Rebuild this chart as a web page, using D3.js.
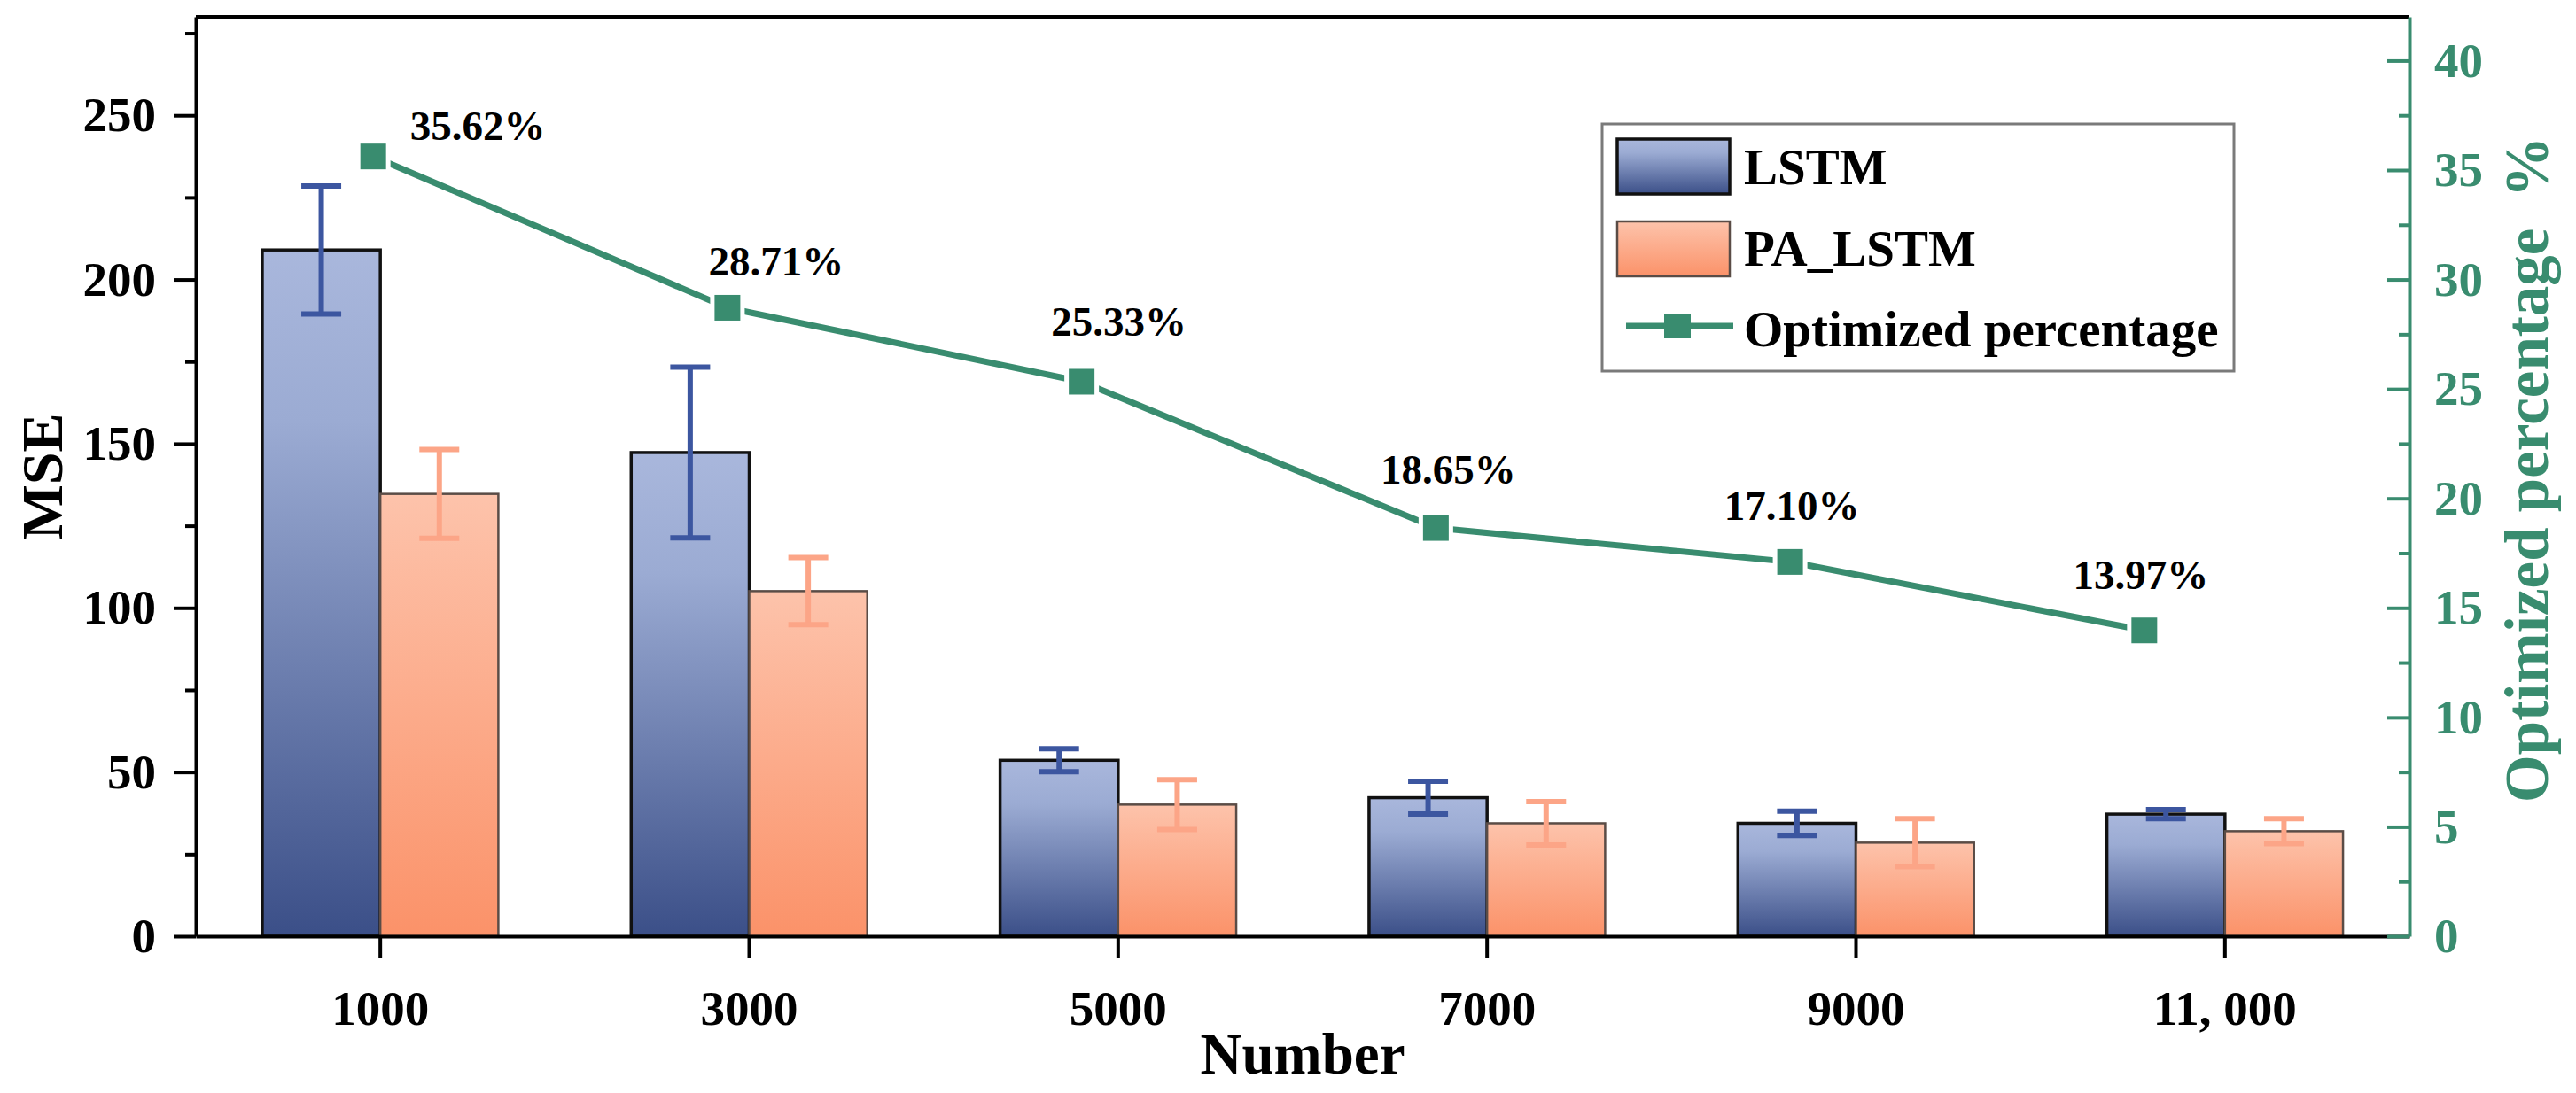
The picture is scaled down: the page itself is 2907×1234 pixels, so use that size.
<!DOCTYPE html>
<html><head><meta charset="utf-8">
<script src="https://cdn.jsdelivr.net/npm/d3@7"></script>
<style>html,body{margin:0;padding:0;background:#fff;} svg{display:block;}</style>
</head><body><svg id="chart" width="2907" height="1234"></svg>
<script>
// ---------------- data ----------------
const categories = ["1000", "3000", "5000", "7000", "9000", "11, 000"];
const lstmMSE = [209.0, 147.3, 53.6, 42.2, 34.4, 37.2];
const lstmErr = [19.5, 26.0, 3.5, 5.0, 3.7, 1.4];
const paMSE = [134.7, 105.1, 40.1, 34.4, 28.5, 32.0];
const paErr = [13.5, 10.2, 7.6, 6.6, 7.3, 3.8];
const optimized = [35.62, 28.71, 25.33, 18.65, 17.10, 13.97];
const optimizedLabels = ["35.62%", "28.71%", "25.33%", "18.65%", "17.10%", "13.97%"];
const leftTicks = [0, 50, 100, 150, 200, 250];
const leftMinorTicks = [25, 75, 125, 175, 225, 275];
const rightTicks = [0, 5, 10, 15, 20, 25, 30, 35, 40];
const rightMinorTicks = [2.5, 7.5, 12.5, 17.5, 22.5, 27.5, 32.5, 37.5];
const seriesNames = ["LSTM", "PA_LSTM", "Optimized percentage"];

// label placement offsets (px) relative to each marker
const labelDx = [118, 55, 42, 14, 2, -4];
const labelDy = [-19, -36, -52, -50, -47, -47];

// ---------------- layout ----------------
const W = 2907, H = 1234;
const plot = {left: 221, right: 2719, top: 19, bottom: 1057};
const FONT = "'Liberation Serif','Times New Roman',Times,serif";
const GREEN = "#398c6f";
const LSTM_ERR = "#3c56a0";
const PA_ERR = "#fca587";

const svg = d3.select("#chart");
svg.append("rect").attr("width", W).attr("height", H).attr("fill", "#fff");

const defs = svg.append("defs");
const g1 = defs.append("linearGradient").attr("id", "lstmGrad").attr("x1", 0).attr("y1", 0).attr("x2", 0).attr("y2", 1);
g1.append("stop").attr("offset", 0).attr("stop-color", "#a9b7dc");
g1.append("stop").attr("offset", 0.25).attr("stop-color", "#9babd3");
g1.append("stop").attr("offset", 1).attr("stop-color", "#3b4f88");
const g2 = defs.append("linearGradient").attr("id", "paGrad").attr("x1", 0).attr("y1", 0).attr("x2", 0).attr("y2", 1);
g2.append("stop").attr("offset", 0).attr("stop-color", "#fdc3ab");
g2.append("stop").attr("offset", 1).attr("stop-color", "#fb9269");

const x = d3.scaleBand().domain(categories).range([plot.left, plot.right]).padding(0);
const bw = x.bandwidth();
const barW = bw * 0.32;
const cx = c => x(c) + bw / 2;
const yL = d3.scaleLinear().domain([0, 280]).range([plot.bottom, plot.top]);
const yR = d3.scaleLinear().domain([0, 42]).range([plot.bottom, plot.top]);
const xLine = d3.scalePoint().domain(categories)
  .range([cx(categories[0]) - 8, cx(categories[categories.length - 1]) - 91]);

// ---------------- bars ----------------
const gBars = svg.append("g");
gBars.selectAll("rect.lstm").data(categories).join("rect")
  .attr("class", "lstm")
  .attr("x", c => cx(c) - barW).attr("width", barW)
  .attr("y", (c, i) => yL(lstmMSE[i])).attr("height", (c, i) => yL(0) - yL(lstmMSE[i]))
  .attr("fill", "url(#lstmGrad)").attr("stroke", "#111").attr("stroke-width", 3.5);
gBars.selectAll("rect.pa").data(categories).join("rect")
  .attr("class", "pa")
  .attr("x", c => cx(c)).attr("width", barW)
  .attr("y", (c, i) => yL(paMSE[i])).attr("height", (c, i) => yL(0) - yL(paMSE[i]))
  .attr("fill", "url(#paGrad)").attr("stroke", "#5a4c46").attr("stroke-width", 2.5);

// ---------------- error bars ----------------
function errBars(vals, errs, offset, color) {
  const g = svg.append("g").attr("stroke", color).attr("stroke-width", 6).attr("fill", "none");
  const cap = 45;
  categories.forEach((c, i) => {
    const xc = cx(c) + offset;
    const y1 = yL(vals[i] + errs[i]), y2 = yL(vals[i] - errs[i]);
    g.append("line").attr("x1", xc).attr("x2", xc).attr("y1", y1).attr("y2", y2);
    g.append("line").attr("x1", xc - cap / 2).attr("x2", xc + cap / 2).attr("y1", y1).attr("y2", y1);
    g.append("line").attr("x1", xc - cap / 2).attr("x2", xc + cap / 2).attr("y1", y2).attr("y2", y2);
  });
}
errBars(lstmMSE, lstmErr, -barW / 2, LSTM_ERR);
errBars(paMSE, paErr, barW / 2, PA_ERR);

// ---------------- axes ----------------
function styleAxis(g, color, fs) {
  g.select(".domain").attr("stroke", color).attr("stroke-width", 4);
  g.selectAll(".tick line").attr("stroke", color).attr("stroke-width", 4);
  g.selectAll(".tick text").attr("fill", color).attr("font-family", FONT)
    .attr("font-weight", "bold").attr("font-size", fs);
}
// top border
svg.append("line").attr("x1", plot.left).attr("x2", plot.right).attr("y1", plot.top).attr("y2", plot.top)
  .attr("stroke", "#000").attr("stroke-width", 4);

const axL = svg.append("g").attr("transform", `translate(${plot.left},0)`)
  .call(d3.axisLeft(yL).tickValues(leftTicks).tickSize(25).tickSizeOuter(0).tickPadding(20).tickFormat(d3.format("d")));
styleAxis(axL, "#000", 55);
const axLm = svg.append("g").attr("transform", `translate(${plot.left},0)`)
  .call(d3.axisLeft(yL).tickValues(leftMinorTicks).tickSize(12).tickFormat(""));
axLm.select(".domain").remove();
axLm.selectAll(".tick line").attr("stroke", "#000").attr("stroke-width", 4);

const axB = svg.append("g").attr("transform", `translate(0,${plot.bottom})`)
  .call(d3.axisBottom(x).tickSize(25).tickSizeOuter(0).tickPadding(36));
styleAxis(axB, "#000", 55);

const axR = svg.append("g").attr("transform", `translate(${plot.right},0)`)
  .call(d3.axisRight(yR).tickValues(rightTicks).tickSize(-25).tickSizeOuter(0).tickPadding(28).tickFormat(d3.format("d")));
styleAxis(axR, GREEN, 55);
const axRm = svg.append("g").attr("transform", `translate(${plot.right},0)`)
  .call(d3.axisRight(yR).tickValues(rightMinorTicks).tickSize(-12).tickFormat(""));
axRm.select(".domain").remove();
axRm.selectAll(".tick line").attr("stroke", GREEN).attr("stroke-width", 4);

// axis titles
svg.append("text").attr("transform", `translate(70,${(plot.top + plot.bottom) / 2}) rotate(-90)`)
  .attr("text-anchor", "middle").attr("font-family", FONT).attr("font-weight", "bold")
  .attr("font-size", 66).attr("fill", "#000").text("MSE");
svg.append("text").attr("x", (plot.left + plot.right) / 2).attr("y", 1212)
  .attr("text-anchor", "middle").attr("font-family", FONT).attr("font-weight", "bold")
  .attr("font-size", 65).attr("fill", "#000").text("Number");
svg.append("text").attr("transform", `translate(2875,${(plot.top + plot.bottom) / 2 - 8}) rotate(-90)`)
  .attr("text-anchor", "middle").attr("font-family", FONT).attr("font-weight", "bold")
  .attr("font-size", 69).attr("fill", GREEN).text("Optimized percentage\u00A0\u00A0%");

// ---------------- line ----------------
const line = d3.line().x((d, i) => xLine(categories[i])).y(d => yR(d));
svg.append("path").datum(optimized).attr("d", line)
  .attr("fill", "none").attr("stroke", GREEN).attr("stroke-width", 7).attr("stroke-linejoin", "round");
svg.append("g").selectAll("rect").data(optimized).join("rect")
  .attr("x", (d, i) => xLine(categories[i]) - 14.5).attr("y", d => yR(d) - 14.5)
  .attr("width", 29).attr("height", 29).attr("fill", GREEN)
  .attr("stroke", "#fff").attr("stroke-width", 10).attr("paint-order", "stroke");
svg.append("g").selectAll("text").data(optimized).join("text")
  .attr("x", (d, i) => xLine(categories[i]) + labelDx[i])
  .attr("y", (d, i) => yR(d) + labelDy[i])
  .attr("text-anchor", "middle").attr("font-family", FONT).attr("font-weight", "bold")
  .attr("font-size", 47).attr("fill", "#000")
  .text((d, i) => optimizedLabels[i]);

// ---------------- legend ----------------
const lg = svg.append("g");
lg.append("rect").attr("x", 1808).attr("y", 140).attr("width", 713).attr("height", 279)
  .attr("fill", "#fff").attr("stroke", "#7a7a7a").attr("stroke-width", 3);
lg.append("rect").attr("x", 1825).attr("y", 157).attr("width", 127).attr("height", 62)
  .attr("fill", "url(#lstmGrad)").attr("stroke", "#111").attr("stroke-width", 3.5);
lg.append("rect").attr("x", 1825).attr("y", 250).attr("width", 127).attr("height", 62)
  .attr("fill", "url(#paGrad)").attr("stroke", "#5a4c46").attr("stroke-width", 2.5);
lg.append("line").attr("x1", 1835).attr("x2", 1956).attr("y1", 368).attr("y2", 368)
  .attr("stroke", GREEN).attr("stroke-width", 7);
lg.append("rect").attr("x", 1878).attr("y", 354).attr("width", 30).attr("height", 28).attr("fill", GREEN);
const legendY = [208, 300, 391];
lg.selectAll("text").data(seriesNames).join("text")
  .attr("x", 1968).attr("y", (d, i) => legendY[i])
  .attr("font-family", FONT).attr("font-weight", "bold").attr("font-size", 57).attr("fill", "#000")
  .text(d => d);
</script>
</body></html>
